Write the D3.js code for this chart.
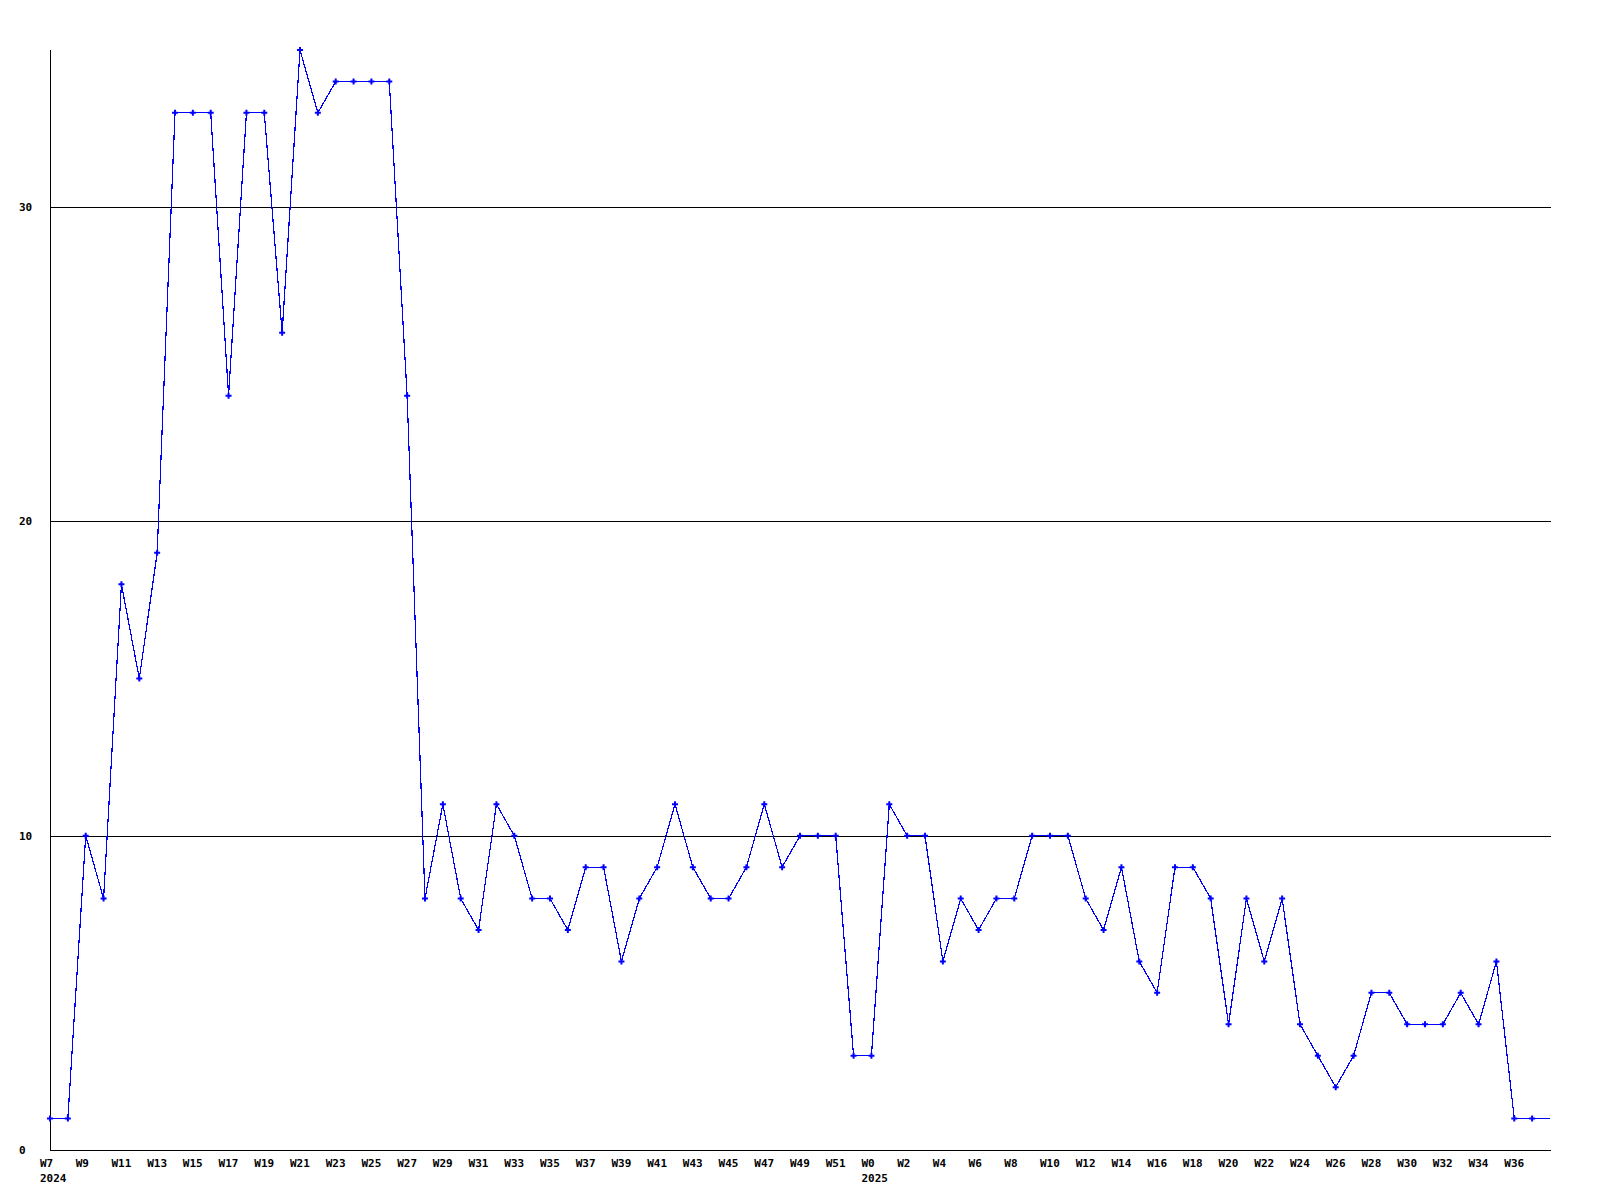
<!DOCTYPE html>
<html>
<head>
<meta charset="utf-8">
<script src="https://cdn.jsdelivr.net/npm/d3@7"></script>
<style>
  body { margin: 0; background: #fff; }
  svg text { font-family: "DejaVu Sans Mono", monospace; font-weight: bold; font-size: 11px; fill: #000; }
</style>
</head>
<body>
<svg id="chart" width="1600" height="1200"></svg>
<script>
// week labels, one entry per point
var weeks2024 = ["W7","W8","W9","W10","W11","W12","W13","W14","W15","W16","W17","W18","W19","W20",
    "W21","W22","W23","W24","W25","W26","W27","W28","W29","W30","W31","W32","W33","W34","W35","W36",
    "W37","W38","W39","W40","W41","W42","W43","W44","W45","W46","W47","W48","W49","W50","W51","W52"];
var weeks2025 = ["W0","W1","W2","W3","W4","W5","W6","W7","W8","W9","W10","W11","W12","W13","W14",
    "W15","W16","W17","W18","W19","W20","W21","W22","W23","W24","W25","W26","W27","W28","W29","W30",
    "W31","W32","W33","W34","W35","W36","W37","W38"];

var values2024 = [1,1,10,8,18,15,19,33,33,33,24,33,33,26,35,33,34,34,34,34,24,8,11,8,7,11,10,8,8,7,
    9,9,6,8,9,11,9,8,8,9,11,9,10,10,10,3];
var values2025 = [3,11,10,10,6,8,7,8,8,10,10,10,8,7,9,6,5,9,9,8,4,8,6,8,4,3,2,3,5,5,4,4,4,5,4,6,1,1,1];

var years = ["2024", "2025"];
var yTicks = [0, 10, 20, 30];
var yMax = 35;

var svg = d3.select("svg#chart"),
    width = +svg.attr("width"),
    height = +svg.attr("height");

var margin = {left: 50, top: 50, right: 1550, bottom: 1150};

// flatten into one table
var points = [];
weeks2024.forEach(function(w, i) { points.push({week: w, year: years[0], value: values2024[i]}); });
weeks2025.forEach(function(w, i) { points.push({week: w, year: years[1], value: values2025[i]}); });
points.forEach(function(d, i) { d.i = i; });
var last = points.length - 1;

var x = d3.scaleLinear()
    .domain([0, last])
    .range([margin.left, margin.right]);

var y = d3.scaleLinear()
    .domain([0, yMax])
    .range([margin.bottom, margin.top]);

svg.append("rect").attr("width", width).attr("height", height).attr("fill", "#fff");

// grid lines
svg.append("g")
    .selectAll("line")
    .data(yTicks.filter(function(t) { return t > 0; }))
    .enter().append("line")
        .attr("x1", x.range()[0])
        .attr("x2", x.range()[1] + 0.5)
        .attr("y1", function(d) { return Math.round(y(d)) + 0.5; })
        .attr("y2", function(d) { return Math.round(y(d)) + 0.5; })
        .attr("stroke", "#000")
        .attr("shape-rendering", "crispEdges");

// axes
svg.append("line")
    .attr("x1", x.range()[0] + 0.5).attr("x2", x.range()[0] + 0.5)
    .attr("y1", y.range()[1]).attr("y2", y.range()[0] + 1)
    .attr("stroke", "#000").attr("shape-rendering", "crispEdges");
svg.append("line")
    .attr("x1", x.range()[0]).attr("x2", x.range()[1] + 1)
    .attr("y1", y.range()[0] + 0.5).attr("y2", y.range()[0] + 0.5)
    .attr("stroke", "#000").attr("shape-rendering", "crispEdges");

// y labels
svg.append("g")
    .selectAll("text")
    .data(yTicks)
    .enter().append("text")
        .attr("x", 19)
        .attr("y", function(d) { return y(d) + 4; })
        .text(function(d) { return d; });

// x labels, every second week (not the current, unfinished one)
var xLabels = svg.append("g");
xLabels.selectAll("text.week")
    .data(points.filter(function(d) { return d.i % 2 === 0 && d.i < last; }))
    .enter().append("text")
        .attr("class", "week")
        .attr("x", function(d) { return x(d.i) - 10; })
        .attr("y", 1167)
        .text(function(d) { return d.week; });

// year under the first week of each year
xLabels.selectAll("text.year")
    .data(years.map(function(yr) { return points.find(function(d) { return d.year === yr; }); }))
    .enter().append("text")
        .attr("class", "year")
        .attr("x", function(d) { return x(d.i) - 10; })
        .attr("y", 1182)
        .text(function(d) { return d.year; });

// the line
var line = d3.line()
    .x(function(d) { return x(d.i); })
    .y(function(d) { return y(d.value); });

svg.append("path")
    .datum(points)
    .attr("d", line)
    .attr("fill", "none")
    .attr("stroke", "#0000ff")
    .attr("stroke-width", 1.2)
    .attr("shape-rendering", "crispEdges");

// markers (the current, unfinished week gets none)
svg.append("g")
    .selectAll("path")
    .data(points.slice(0, -1))
    .enter().append("path")
        .attr("d", d3.symbol().type(d3.symbolCross).size(20))
        .attr("transform", function(d) { return "translate(" + x(d.i) + "," + y(d.value) + ")"; })
        .attr("fill", "#0000ff");
</script>
</body>
</html>
